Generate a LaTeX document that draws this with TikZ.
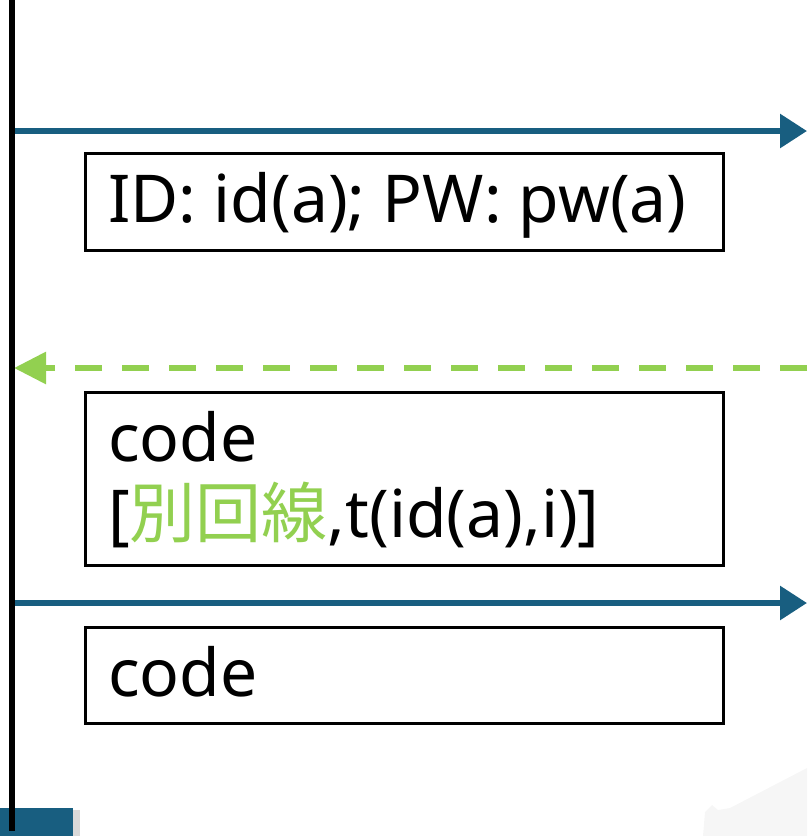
\documentclass[tikz,border=0pt]{standalone}
\usepackage{fontspec}
\setmainfont{Noto Sans}
\newfontfamily\cjk{Noto Sans CJK JP}
\usetikzlibrary{arrows.meta}
\definecolor{msgblue}{RGB}{24,94,128}
\definecolor{replygreen}{RGB}{146,208,80}
\tikzset{
  lifeline/.style={line width=6pt,black},
  sendmsg/.style={line width=6pt,msgblue,-{Triangle[length=27pt,width=33pt]}},
  replymsg/.style={line width=6pt,replygreen,dash pattern=on 27pt off 20pt,-{Triangle[length=32pt,width=31pt]}},
  msgbox/.style={draw=black,line width=3pt,fill=white},
  msgtext/.style={anchor=base west,inner sep=0pt,font=\fontsize{66}{76}\selectfont},
}
\begin{document}
\begin{tikzpicture}[x=1pt,y=-1pt]
\useasboundingbox (0,0) rectangle (807,836);
% faint background shape in the lower right corner
\fill[gray!7] (703,836) -- (705,812) -- (712,805) -- (718,810) -- (730,808) -- (807,768) -- (807,836) -- cycle;
% lifeline
\coordinate (top) at (12,0);
\coordinate (bottom) at (12,831);
% message end points
\coordinate (s1) at (12,131);
\coordinate (e1) at (807,131);
\coordinate (s2) at (807,368);
\coordinate (e2) at (14,368);
\coordinate (s3) at (12,603);
\coordinate (e3) at (807,603);
% boxes
\draw[msgbox] (85,153) rectangle (723,250);
\draw[msgbox] (85,392) rectangle (723,565);
\draw[msgbox] (85,627) rectangle (723,723);
\node[msgtext] (t1) at (108,222) {ID: id(a); PW: pw(a)};
\node[msgtext] (t2a) at (108,461) {code};
\node[msgtext] (t2b) at (108,537) {[{\color{replygreen}\cjk 別回線},t(id(a),i)]};
\node[msgtext] (t3) at (108,696) {code};
% arrows
\draw[sendmsg] (s1) -- (e1);
\draw[replymsg] (s2) -- (e2);
\draw[sendmsg] (s3) -- (e3);
% footer block with shadow
\fill[gray!30] (73,810) rectangle (80,836);
\fill[msgblue] (0,808) rectangle (73,836);
\draw[lifeline] (top) -- (bottom);
\end{tikzpicture}
\end{document}
